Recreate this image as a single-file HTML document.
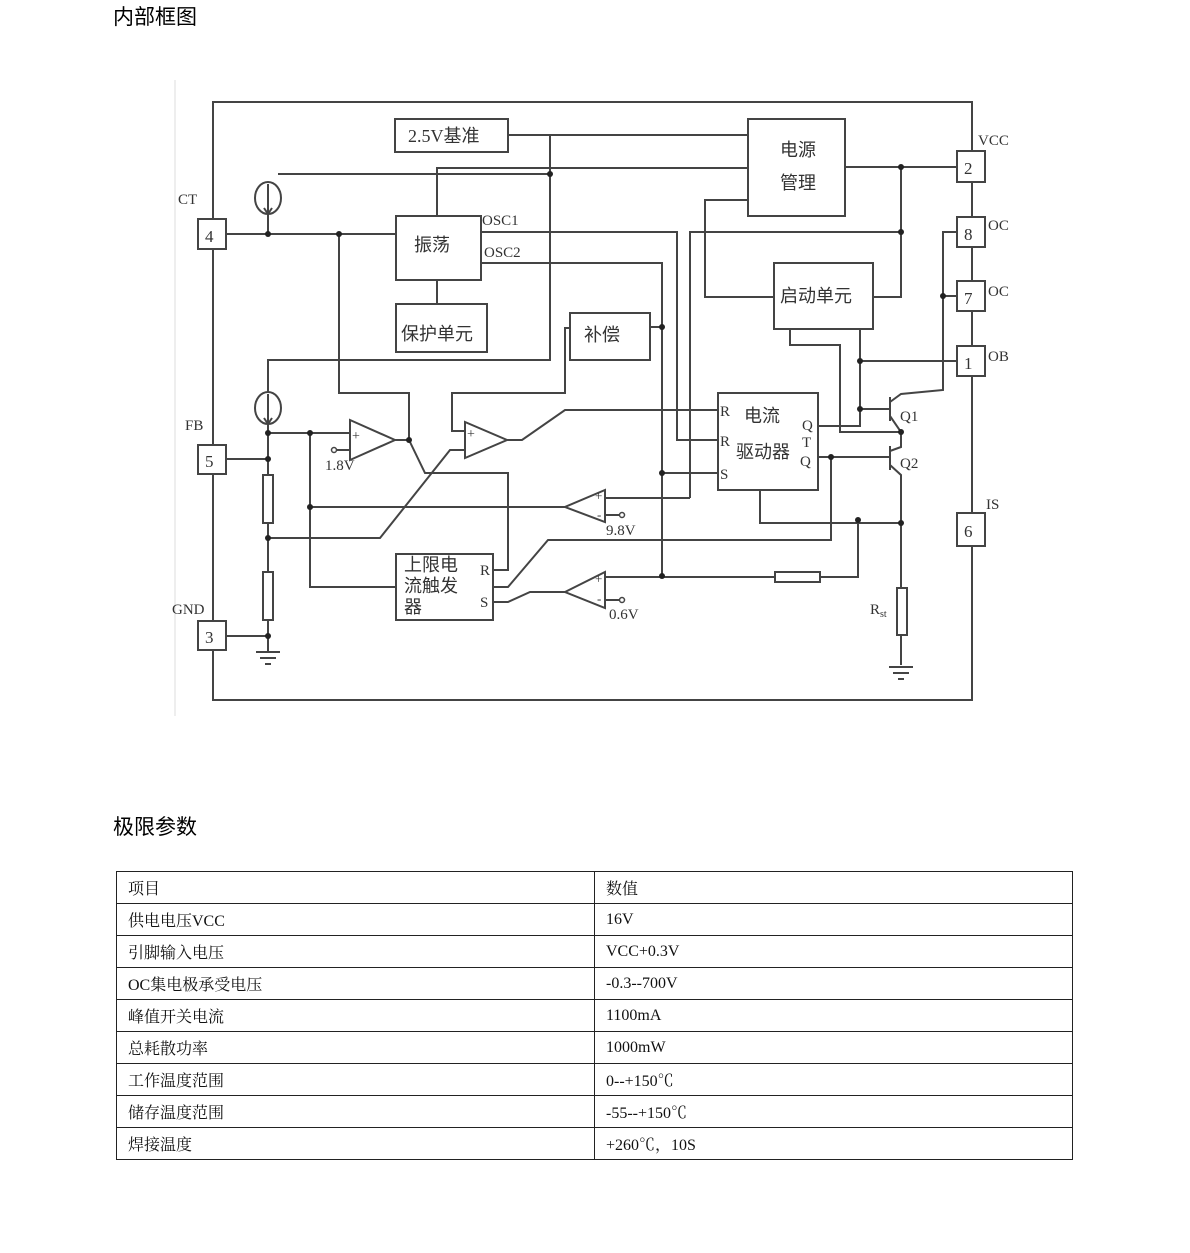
<!DOCTYPE html>
<html><head><meta charset="utf-8"><style>
html,body{margin:0;padding:0;background:#fff;width:1190px;height:1253px;overflow:hidden}
.h{position:absolute;left:113px;font:21px "Liberation Sans","Noto Sans CJK SC",sans-serif;color:#000}
table{position:absolute;left:116px;top:871px;border-collapse:collapse;width:957px}
td{border:1px solid #222;height:31px;padding:0 0 0 11px;font:16px "Liberation Serif","Noto Serif CJK SC",serif;color:#111}
td.a{width:466px}
svg{position:absolute;left:0;top:0}
svg text{font-family:"Liberation Serif","Noto Sans CJK SC",serif;fill:#333}
</style></head><body>
<div class="h" style="top:1px">内部框图</div>
<div class="h" style="top:811px">极限参数</div>
<svg width="1190" height="800" viewBox="0 0 1190 800">
<rect x="175" y="80" width="835" height="636" fill="#fff"/>
<line x1="175" y1="80" x2="175" y2="716" stroke="#eee" stroke-width="2"/>
<g stroke="#444" stroke-width="2" fill="none">
<polyline points="213,219 213,102 972,102 972,700 213,700 213,650"/>
<line x1="213" y1="249" x2="213" y2="445"/><line x1="213" y1="474" x2="213" y2="621"/>
<rect x="198" y="219" width="28" height="30" fill="#fff"/>
<rect x="198" y="445" width="28" height="29" fill="#fff"/>
<rect x="198" y="621" width="28" height="29" fill="#fff"/>
<rect x="957" y="151" width="28" height="31" fill="#fff"/>
<rect x="957" y="217" width="28" height="30" fill="#fff"/>
<rect x="957" y="281" width="28" height="30" fill="#fff"/>
<rect x="957" y="346" width="28" height="30" fill="#fff"/>
<rect x="957" y="513" width="28" height="33" fill="#fff"/>
<rect x="395" y="119" width="113" height="33"/>
<rect x="396" y="216" width="85" height="64"/>
<rect x="396" y="304" width="91" height="48"/>
<rect x="570" y="313" width="80" height="47"/>
<rect x="748" y="119" width="97" height="97"/>
<rect x="774" y="263" width="99" height="66"/>
<rect x="718" y="393" width="100" height="97"/>
<rect x="396" y="554" width="97" height="66"/>
<polyline points="508,135 748,135"/>
<polyline points="550,135 550,360 268,360 268,392"/>
<polyline points="278,174 550,174"/>
<polyline points="437,216 437,168 748,168"/>
<polyline points="268,214 268,234"/>
<polyline points="226,234 396,234"/>
<polyline points="339,234 339,393 409,393 409,440"/>
<polyline points="437,280 437,304"/>
<polyline points="481,232 677,232 677,440 718,440"/>
<polyline points="690,498 690,232 901,232"/>
<polyline points="481,263 662,263 662,576"/>
<polyline points="650,327 662,327"/>
<polyline points="845,167 957,167"/>
<polyline points="748,200 705,200 705,297 774,297"/>
<polyline points="873,297 901,297 901,167"/>
<ellipse cx="268" cy="198" rx="13" ry="16"/>
<ellipse cx="268" cy="408" rx="13" ry="16"/>
<polyline points="268,184 268,214"/><polyline points="264,208 268,214 272,208"/>
<polyline points="268,394 268,424"/><polyline points="264,418 268,424 272,418"/>
<polyline points="268,424 268,636"/>
<polyline points="268,433 350,433"/>
<polyline points="226,459 268,459"/>
<polyline points="226,636 268,636"/>
<polyline points="268,636 268,652"/>
<rect x="263" y="475" width="10" height="48" fill="#fff"/>
<rect x="263" y="572" width="10" height="48" fill="#fff"/>
<polygon points="350,420 350,460 395,440"/>
<polyline points="395,440 409,440 425,473 508,473 508,570 493,570"/>
<polyline points="336,450 350,450"/>
<polygon points="465,422 465,458 507,440"/>
<polyline points="507,440 522,440 565,410 718,410"/>
<polyline points="465,431 452,431 452,393 565,393 565,328 570,328"/>
<polyline points="268,538 380,538 450,450 465,450"/>
<polyline points="310,433 310,587 396,587"/>
<polyline points="310,507 565,507"/>
<polygon points="605,490 605,522 565,507"/>
<polyline points="605,498 690,498"/>
<polyline points="605,515 620,515"/>
<polygon points="605,572 605,608 565,592"/>
<polyline points="565,592 530,592 508,602 493,602"/>
<polyline points="605,577 775,577"/>
<polyline points="605,600 620,600"/>
<rect x="775" y="572" width="45" height="10" fill="#fff"/>
<polyline points="820,577 858,577 858,520"/>
<polyline points="493,587 508,587 548,540 831,540 831,457"/>
<polyline points="662,473 718,473"/>
<polyline points="760,490 760,523 901,523"/>
<polyline points="818,426 860,426 860,329"/>
<polyline points="860,361 957,361"/>
<polyline points="860,409 890,409"/>
<polyline points="790,329 790,345 840,345 840,432 901,432"/>
<polyline points="818,457 890,457"/>
<line x1="890" y1="397" x2="890" y2="421"/>
<polyline points="890,402 901,394 943,390 943,232 957,232"/>
<polyline points="943,296 957,296"/>
<polyline points="890,416 901,432 901,447 890,451"/>
<line x1="890" y1="446" x2="890" y2="470"/>
<polyline points="890,465 901,475 901,590"/>
<rect x="897" y="588" width="10" height="47" fill="#fff"/>
<polyline points="901,635 901,665"/>
</g>
<g stroke="#444" stroke-width="2">
<line x1="256" y1="652" x2="280" y2="652"/><line x1="260" y1="658" x2="276" y2="658"/><line x1="265" y1="664" x2="271" y2="664"/>
<line x1="889" y1="667" x2="913" y2="667"/><line x1="893" y1="673" x2="909" y2="673"/><line x1="898" y1="679" x2="904" y2="679"/>
</g>
<g stroke="#444" stroke-width="1.5" fill="#fff">
<circle cx="334" cy="450" r="2.5"/><circle cx="622" cy="515" r="2.5"/><circle cx="622" cy="600" r="2.5"/>
</g>
<g fill="#222">
<circle cx="268" cy="234" r="3"/><circle cx="339" cy="234" r="3"/><circle cx="550" cy="174" r="3"/>
<circle cx="268" cy="433" r="3"/><circle cx="268" cy="459" r="3"/><circle cx="268" cy="538" r="3"/><circle cx="268" cy="636" r="3"/>
<circle cx="310" cy="433" r="3"/><circle cx="310" cy="507" r="3"/><circle cx="409" cy="440" r="3"/>
<circle cx="662" cy="327" r="3"/><circle cx="662" cy="473" r="3"/><circle cx="662" cy="576" r="3"/>
<circle cx="901" cy="167" r="3"/><circle cx="901" cy="232" r="3"/><circle cx="943" cy="296" r="3"/>
<circle cx="860" cy="361" r="3"/><circle cx="860" cy="409" r="3"/><circle cx="901" cy="432" r="3"/>
<circle cx="831" cy="457" r="3"/><circle cx="858" cy="520" r="3"/><circle cx="901" cy="523" r="3"/>
</g>
<g font-size="17">
<text x="205" y="242">4</text><text x="205" y="467">5</text><text x="205" y="643">3</text>
<text x="964" y="174">2</text><text x="964" y="240">8</text><text x="964" y="304">7</text><text x="964" y="369">1</text><text x="964" y="537">6</text>
</g>
<g font-size="15">
<text x="178" y="204">CT</text><text x="185" y="430">FB</text><text x="172" y="614">GND</text>
<text x="978" y="145">VCC</text><text x="988" y="230">OC</text><text x="988" y="296">OC</text><text x="988" y="361">OB</text><text x="986" y="509">IS</text>
<text x="482" y="225">OSC1</text><text x="484" y="257">OSC2</text>
<text x="325" y="470">1.8V</text><text x="606" y="535">9.8V</text><text x="609" y="619">0.6V</text>
<text x="900" y="421">Q1</text><text x="900" y="468">Q2</text>
<text x="720" y="416">R</text><text x="720" y="446">R</text><text x="720" y="479">S</text>
<text x="802" y="430">Q</text><text x="802" y="447">T</text><text x="800" y="466">Q</text>
<text x="480" y="575">R</text><text x="480" y="607">S</text>
<text x="870" y="614">R<tspan font-size="10" dy="3">st</tspan></text>
<text x="352" y="440" font-size="14">+</text><text x="467" y="438" font-size="14">+</text>
<text x="595" y="500" font-size="13">+</text><text x="597" y="519" font-size="13">-</text>
<text x="595" y="583" font-size="13">+</text><text x="597" y="603" font-size="13">-</text>
</g>
<g font-size="18" style="font-family:'Noto Sans CJK SC',sans-serif">
<text x="408" y="142">2.5V基准</text>
<text x="414" y="251">振荡</text>
<text x="401" y="340">保护单元</text>
<text x="584" y="341">补偿</text>
<text x="780" y="156">电源</text><text x="780" y="189">管理</text>
<text x="780" y="302">启动单元</text>
<text x="744" y="422">电流</text><text x="736" y="458">驱动器</text>
<text x="404" y="571">上限电</text><text x="404" y="592">流触发</text><text x="404" y="613">器</text>
</g>
</svg>
<table>
<tr><td class="a">项目</td><td>数值</td></tr>
<tr><td class="a">供电电压VCC</td><td>16V</td></tr>
<tr><td class="a">引脚输入电压</td><td>VCC+0.3V</td></tr>
<tr><td class="a">OC集电极承受电压</td><td>-0.3--700V</td></tr>
<tr><td class="a">峰值开关电流</td><td>1100mA</td></tr>
<tr><td class="a">总耗散功率</td><td>1000mW</td></tr>
<tr><td class="a">工作温度范围</td><td>0--+150℃</td></tr>
<tr><td class="a">储存温度范围</td><td>-55--+150℃</td></tr>
<tr><td class="a">焊接温度</td><td>+260℃，10S</td></tr>
</table>
</body></html>
